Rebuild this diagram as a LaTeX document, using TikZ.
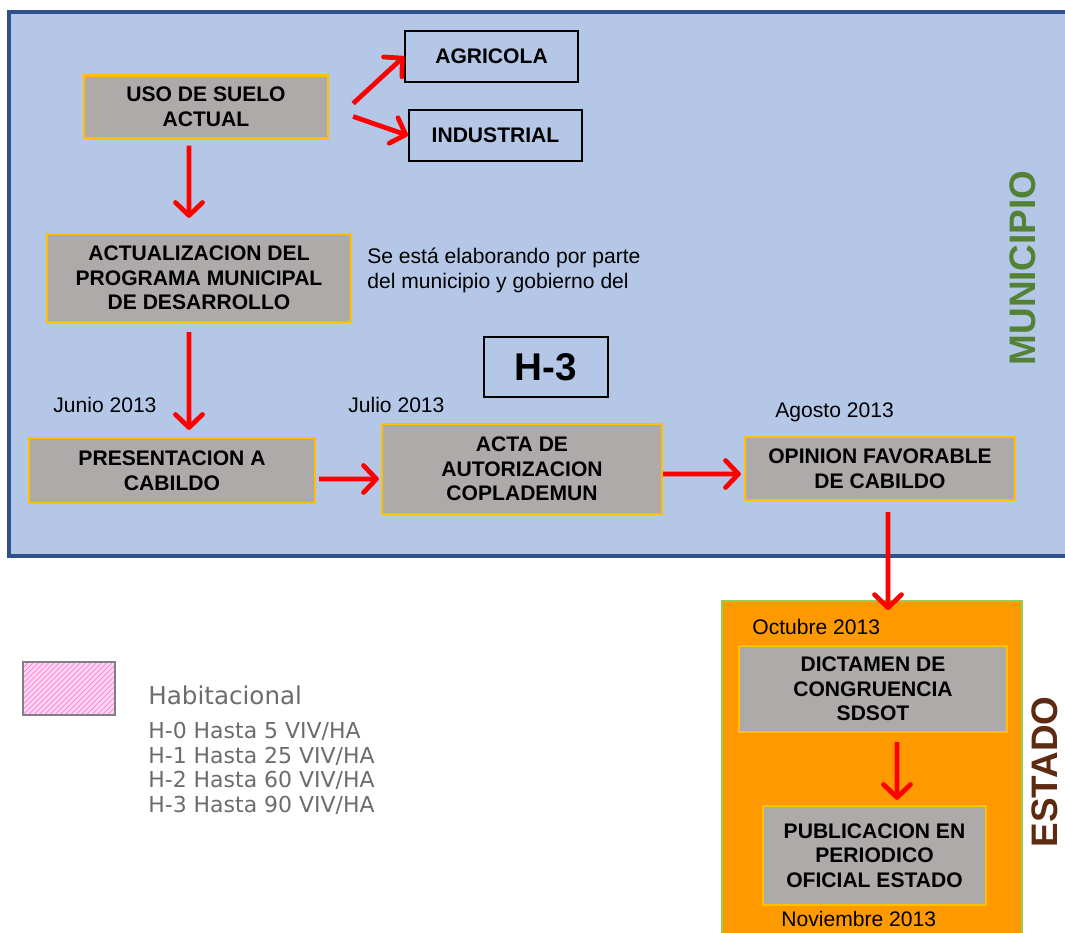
\documentclass[tikz,border=0pt]{standalone}
\usepackage{fontspec}
\setmainfont{Liberation Sans}
\newfontfamily\cadfont{DejaVu Sans}
\usetikzlibrary{arrows.meta,patterns}

\definecolor{azulfondo}{HTML}{B4C7E7}
\definecolor{azulborde}{HTML}{2F528F}
\definecolor{grisbox}{HTML}{AEAAAA}
\definecolor{oro}{HTML}{FFC000}
\definecolor{naranja}{HTML}{FF9900}
\definecolor{verdeborde}{HTML}{92D050}
\definecolor{verdetxt}{HTML}{538135}
\definecolor{cafetxt}{HTML}{5E2B12}
\definecolor{rosa}{HTML}{FFD6F4}
\definecolor{rosalinea}{HTML}{FF7AD8}

\begin{document}
\begin{tikzpicture}[x=0.02cm,y=-0.02cm,
  caja/.style={rectangle,draw=oro,line width=1.3pt,fill=grisbox,align=center,
    font=\fontsize{12}{14}\selectfont\bfseries,inner sep=2pt},
  opcion/.style={rectangle,draw=black,line width=1.1pt,align=center,
    font=\fontsize{12}{14}\selectfont\bfseries,minimum width=3.46cm,minimum height=1.02cm},
  flecha/.style={draw=red,line width=2.7pt,
    -{Straight Barb[length=2.6mm,width=5.4mm,round]}},
  fecha/.style={anchor=west,inner sep=0pt,font=\fontsize{12}{14}\selectfont},
  lado/.style={rotate=90,inner sep=0pt,font=\fontsize{21}{24}\selectfont\bfseries}]
\useasboundingbox (0,0) rectangle (1065,933);
\fill[white] (0,0) rectangle (1065,933);

% municipio
\draw[azulborde,line width=2pt,fill=azulfondo] (9,12) rectangle (1080,556);
\node[lado,text=verdetxt] (municipio) at (1023,268) {MUNICIPIO};

\node[caja,minimum width=4.88cm,minimum height=1.26cm] (uso) at (206,107) {USO DE SUELO\\ACTUAL};
\node[opcion] (agri) at (491.5,56.5) {AGRICOLA};
\node[opcion] (indu) at (495.5,135.5) {INDUSTRIAL};
\node[caja,minimum width=6.08cm,minimum height=1.76cm] (actu) at (199,278) {ACTUALIZACION DEL\\PROGRAMA MUNICIPAL\\DE DESARROLLO};
\node[anchor=north west,inner sep=0pt,align=left,font=\fontsize{12}{14}\selectfont] (nota) at (367,248)
  {Se está elaborando por parte\\del municipio y gobierno del};
\node[rectangle,draw=black,line width=1.2pt,minimum width=2.48cm,minimum height=1.2cm,
  font=\fontsize{22}{24}\selectfont\bfseries] (h3) at (546,367) {H-3};

\node[fecha] (junio) at (53,405) {Junio 2013};
\node[caja,minimum width=5.72cm,minimum height=1.3cm] (pres) at (172,470.5) {PRESENTACION A\\CABILDO};
\node[fecha] (julio) at (348,405) {Julio 2013};
\node[caja,minimum width=5.6cm,minimum height=1.8cm] (acta) at (522,469) {ACTA DE\\AUTORIZACION\\COPLADEMUN};
\node[fecha] (agosto) at (775,412) {Agosto 2013};
\node[caja,minimum width=5.4cm,minimum height=1.26cm] (opin) at (880,468.5) {OPINION FAVORABLE\\DE CABILDO};

% estado
\node[rectangle,draw=verdeborde,line width=1.2pt,fill=naranja,minimum width=6cm,minimum height=7cm,anchor=north] (estado) at (872,600) {};
\node[lado,text=cafetxt] (estadotxt) at (1045,772) {ESTADO};
\node[fecha] (octubre) at (752,627) {Octubre 2013};
\node[caja,minimum width=5.36cm,minimum height=1.72cm] (dict) at (873,689) {DICTAMEN DE\\CONGRUENCIA\\SDSOT};
\node[caja,minimum width=4.46cm,minimum height=1.98cm] (publ) at (874.5,855.5) {PUBLICACION EN\\PERIODICO\\OFICIAL ESTADO};
\node[fecha] (noviembre) at (781,919) {Noviembre 2013};

% flechas
\draw[flecha] ([shift={(0.48cm,0.07cm)}]uso.east) -- (agri.west);
\draw[flecha] ([shift={(0.48cm,-0.19cm)}]uso.east) -- (indu.west);
\draw[flecha,shorten <=0.12cm,shorten >=0.3cm] ([xshift=-0.34cm]uso.south) -- ([xshift=-0.2cm]actu.north);
\draw[flecha,shorten <=0.18cm,shorten >=0.14cm] ([xshift=-0.2cm]actu.south) -- ([xshift=0.34cm]pres.north);
\draw[flecha,shorten <=0.06cm,shorten >=0.04cm] ([yshift=-0.17cm]pres.east) -- ([yshift=-0.2cm]acta.west);
\draw[flecha,shorten >=0.06cm] ([yshift=-0.1cm]acta.east) -- ([yshift=-0.11cm]opin.west);
\draw[flecha,shorten <=0.22cm,shorten >=-0.2cm] ([xshift=0.16cm]opin.south) -- ([xshift=0.32cm]estado.north);
\draw[flecha,shorten <=0.18cm,shorten >=0.1cm] ([xshift=0.48cm]dict.south) -- ([xshift=0.45cm]publ.north);

% leyenda
\draw[draw=gray,line width=1.2pt,preaction={fill=rosa},pattern=north east lines,pattern color=rosalinea] (23,662) rectangle (115,715);
\node[anchor=west,inner sep=0pt,text=gray!85!black,font=\cadfont\fontsize{14}{16}\selectfont] (habit) at (148,695) {Habitacional};
\node[anchor=north west,inner sep=0pt,align=left,text=gray!85!black,font=\cadfont\fontsize{12.5}{14}\selectfont] (densidad) at (148,722)
  {H-0 Hasta 5 VIV/HA\\H-1 Hasta 25 VIV/HA\\H-2 Hasta 60 VIV/HA\\H-3 Hasta 90 VIV/HA};
\end{tikzpicture}
\end{document}
